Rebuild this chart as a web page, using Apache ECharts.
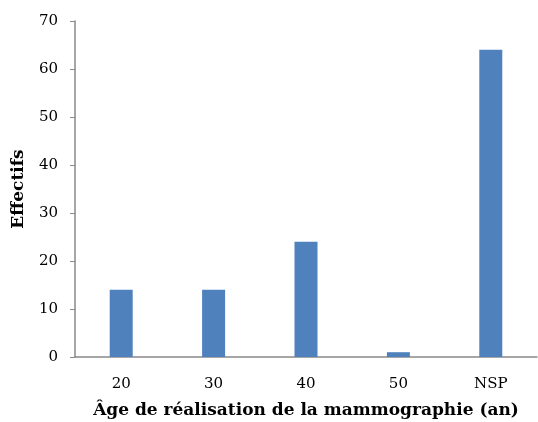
<!DOCTYPE html>
<html><head><meta charset="utf-8">
<script src="https://cdn.jsdelivr.net/npm/echarts@6/dist/echarts.min.js"></script>
<style>html,body{margin:0;padding:0;background:#fff}#c{width:538px;height:422px}</style>
</head><body><div id="c"></div>
<script>
const categories = ['20', '30', '40', '50', 'NSP'];
const values = [14, 14, 24, 1, 64];
const yTicks = { min: 0, max: 70, interval: 10 };
const xTitle = 'Âge de réalisation de la mammographie (an)';
const yTitle = 'Effectifs';

const font = "'DejaVu Serif', serif";
const chart = echarts.init(document.getElementById('c'));
chart.setOption({
  animation: false,
  grid: { left: 75, right: 1, top: 21, bottom: 65, containLabel: false, outerBoundsMode: 'none' },
  xAxis: {
    type: 'category', data: categories,
    axisLine: { lineStyle: { color: '#898989', width: 1.5 } },
    axisTick: { show: false },
    axisLabel: { color: '#000', fontFamily: font, fontSize: 15, margin: 20 },
    name: xTitle, nameLocation: 'middle', nameGap: 45,
    nameTextStyle: { color: '#000', fontFamily: font, fontSize: 17, fontWeight: 'bold' }
  },
  yAxis: {
    type: 'value', min: yTicks.min, max: yTicks.max, interval: yTicks.interval,
    splitLine: { show: false },
    axisLine: { show: true, lineStyle: { color: '#898989', width: 1.5 } },
    axisTick: { show: true, length: 5, lineStyle: { color: '#898989' } },
    axisLabel: { color: '#000', fontFamily: font, fontSize: 15, margin: 17 },
    name: yTitle, nameLocation: 'middle', nameGap: 48, nameRotate: 90,
    nameTextStyle: { color: '#000', fontFamily: font, fontSize: 17, fontWeight: 'bold' }
  },
  series: [{
    type: 'bar', data: values, barWidth: 23,
    itemStyle: { color: '#4f81bd' }
  }]
});
</script></body></html>
